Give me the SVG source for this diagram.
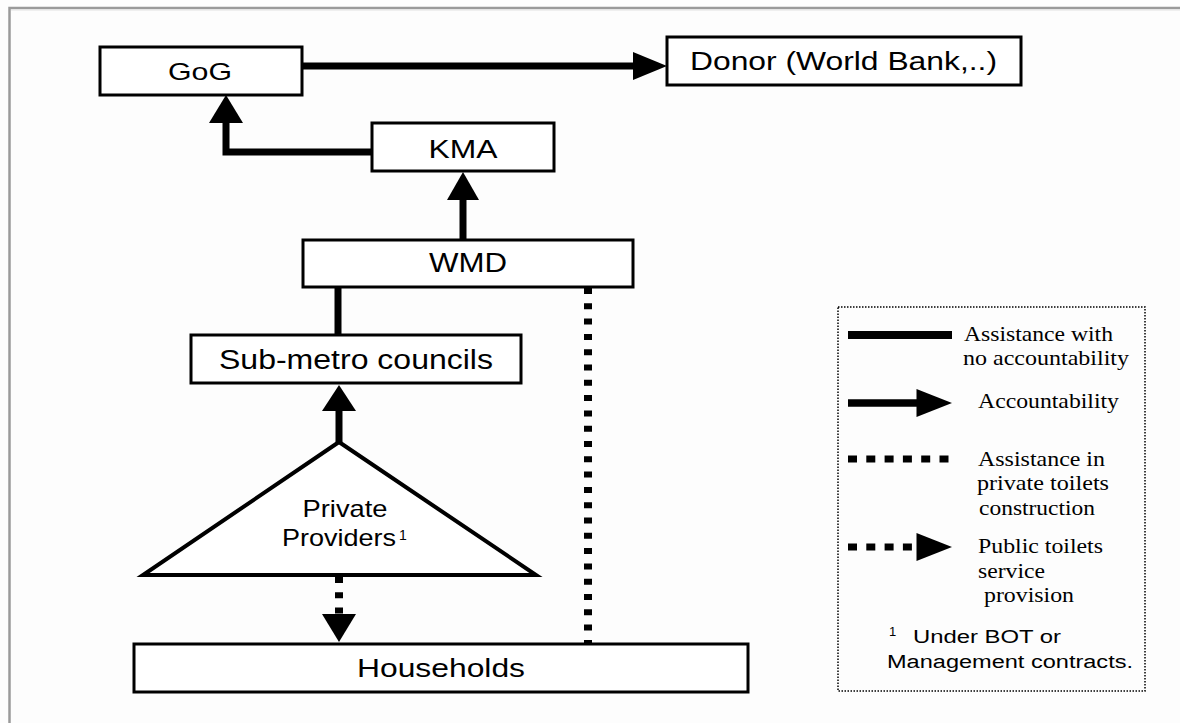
<svg xmlns="http://www.w3.org/2000/svg" width="1180" height="723" viewBox="0 0 1180 723">
  <style>
    .box { fill: #ffffff; stroke: #000000; stroke-width: 3; }
    .tri { fill: #ffffff; stroke: #000000; stroke-width: 4; stroke-linejoin: miter; }
    .lbl { font-family: "Liberation Sans", Arial, sans-serif; fill: #000000; text-anchor: middle; }
    .leg { font-family: "Liberation Serif", "Times New Roman", serif; font-size: 21px; fill: #000000; }
    .note { font-family: "Liberation Sans", Arial, sans-serif; fill: #000000; }
    .solid { fill: none; stroke: #000000; stroke-width: 7; }
    .dots { fill: none; stroke: #000000; stroke-width: 8; stroke-dasharray: 6 9.3; }
    .head { fill: #000000; stroke: none; }
  </style>

  <!-- page -->
  <rect x="0" y="0" width="1180" height="723" fill="#fdfdfd"/>
  <path d="M9.5,723 V8 H1180" fill="none" stroke="#9a9a9a" stroke-width="2.5"/>
  <line x1="11" y1="10" x2="1180" y2="10" stroke="#e2e2e2" stroke-width="1"/>

  <!-- connectors -->
  <g id="connectors">
    <!-- GoG to Donor -->
    <line class="solid" x1="302" y1="66" x2="635" y2="66"/>
    <polygon class="head" points="633,52 667,66 633,80"/>
    <!-- KMA to GoG -->
    <path class="solid" d="M373,152 H226 V121" stroke-linejoin="miter"/>
    <polygon class="head" points="209,123 226,95 243,123"/>
    <!-- WMD to KMA -->
    <line class="solid" x1="463" y1="240" x2="463" y2="198"/>
    <polygon class="head" points="447,200 463,172 479,200"/>
    <!-- WMD to Sub-metro councils -->
    <line class="solid" x1="338" y1="287" x2="338" y2="335" stroke-width="8"/>
    <!-- Private providers to Sub-metro councils -->
    <line class="solid" x1="339" y1="442" x2="339" y2="409"/>
    <polygon class="head" points="322,411 339,385 356,411"/>
    <!-- WMD to Households (dotted) -->
    <line class="dots" x1="588" y1="288" x2="588" y2="644"/>
    <!-- Private providers to Households (dotted arrow) -->
    <line class="dots" x1="339" y1="577" x2="339" y2="614" stroke-width="9" stroke-dasharray="6 9"/>
    <polygon class="head" points="322,614 356,614 339,642"/>
  </g>

  <g id="node-gog">
    <rect class="box" x="100" y="47" width="202" height="48"/>
    <text class="lbl" x="200" y="80" font-size="24" textLength="64" lengthAdjust="spacingAndGlyphs">GoG</text>
  </g>

  <g id="node-donor">
    <rect class="box" x="667" y="37" width="354" height="48"/>
    <text class="lbl" x="843.5" y="70" font-size="25" textLength="307" lengthAdjust="spacingAndGlyphs">Donor (World Bank,..)</text>
  </g>

  <g id="node-kma">
    <rect class="box" x="372" y="123" width="182" height="48"/>
    <text class="lbl" x="463" y="158" font-size="25" textLength="69" lengthAdjust="spacingAndGlyphs">KMA</text>
  </g>

  <g id="node-wmd">
    <rect class="box" x="303" y="240" width="330" height="47"/>
    <text class="lbl" x="468" y="272" font-size="27" textLength="78" lengthAdjust="spacingAndGlyphs">WMD</text>
  </g>

  <g id="node-submetro">
    <rect class="box" x="191" y="335" width="330" height="48"/>
    <text class="lbl" x="356" y="369" font-size="27" textLength="274" lengthAdjust="spacingAndGlyphs">Sub-metro councils</text>
  </g>

  <g id="node-private">
    <polygon class="tri" points="339,442 143,575 536,575"/>
    <text class="lbl" x="345" y="517" font-size="24" textLength="85" lengthAdjust="spacingAndGlyphs">Private</text>
    <text class="note" x="282" y="546" font-size="24" textLength="114" lengthAdjust="spacingAndGlyphs">Providers</text>
    <text class="note" x="399" y="540" font-size="14">1</text>
  </g>

  <g id="node-households">
    <rect class="box" x="134" y="644" width="614" height="48"/>
    <text class="lbl" x="441" y="677" font-size="26" textLength="168" lengthAdjust="spacingAndGlyphs">Households</text>
  </g>

  <g id="legend">
    <rect x="838" y="307" width="307" height="384" fill="none" stroke="#000000" stroke-width="1.5" stroke-dasharray="1.5 1.5"/>
    <line x1="848" y1="335" x2="952" y2="335" stroke="#000000" stroke-width="8"/>
    <text class="leg" x="964" y="341" textLength="149" lengthAdjust="spacingAndGlyphs">Assistance with</text>
    <text class="leg" x="963" y="365" textLength="166" lengthAdjust="spacingAndGlyphs">no accountability</text>

    <line x1="848" y1="403" x2="918" y2="403" stroke="#000000" stroke-width="7.5"/>
    <polygon class="head" points="916.5,389 952,403 916.5,417"/>
    <text class="leg" x="978" y="408" textLength="141" lengthAdjust="spacingAndGlyphs">Accountability</text>

    <line x1="848" y1="459" x2="950" y2="459" stroke="#000000" stroke-width="7" stroke-dasharray="9 9.3"/>
    <text class="leg" x="978" y="466" textLength="127" lengthAdjust="spacingAndGlyphs">Assistance in</text>
    <text class="leg" x="977" y="490" textLength="132" lengthAdjust="spacingAndGlyphs">private toilets</text>
    <text class="leg" x="979" y="515" textLength="116" lengthAdjust="spacingAndGlyphs">construction</text>

    <line x1="848" y1="547" x2="917" y2="547" stroke="#000000" stroke-width="7" stroke-dasharray="9 9.3"/>
    <polygon class="head" points="916.5,533 952,547 916.5,561"/>
    <text class="leg" x="978" y="553" textLength="125" lengthAdjust="spacingAndGlyphs">Public toilets</text>
    <text class="leg" x="978" y="578" textLength="67" lengthAdjust="spacingAndGlyphs">service</text>
    <text class="leg" x="984" y="602" textLength="90" lengthAdjust="spacingAndGlyphs">provision</text>

    <text class="note" x="889" y="636" font-size="13">1</text>
    <text class="note" x="913" y="643" font-size="18" textLength="148" lengthAdjust="spacingAndGlyphs">Under BOT or</text>
    <text class="note" x="887" y="668" font-size="18" textLength="246" lengthAdjust="spacingAndGlyphs">Management contracts.</text>
  </g>
</svg>
